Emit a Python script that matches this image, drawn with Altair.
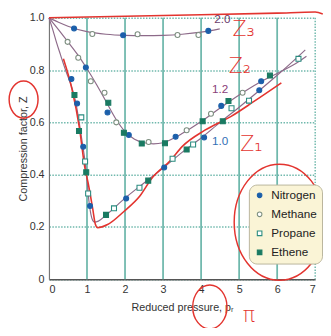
import altair as alt
import pandas as pd

# ---- isotherm curves (reduced temperature) ----
t10_p = [0, 0.1, 0.2, 0.3, 0.4, 0.5, 0.6, 0.7, 0.8, 0.9, 0.95, 1.0, 1.05, 1.1, 1.15, 1.2, 1.3, 1.5,
         2.0, 2.5, 3.0, 3.5, 4.0, 4.5, 5.0, 5.5, 6.0, 6.5, 6.74]
t10_z = [1.0, 0.955, 0.905, 0.86, 0.815, 0.775, 0.735, 0.68, 0.595, 0.5, 0.45, 0.38, 0.3, 0.25, 0.225,
         0.218, 0.222, 0.245, 0.31, 0.368, 0.425, 0.485, 0.54, 0.6, 0.658, 0.718, 0.78, 0.845, 0.877]
t12_p = [0, 0.25, 0.5, 0.75, 1.0, 1.25, 1.5, 1.75, 2.0, 2.25, 2.5, 2.75, 3.0, 3.25, 3.5, 4.0, 4.5,
         5.0, 5.5, 6.0, 6.5, 6.77]
t12_z = [1.0, 0.955, 0.908, 0.86, 0.805, 0.745, 0.68, 0.615, 0.565, 0.535, 0.522, 0.518, 0.522, 0.537,
         0.557, 0.603, 0.655, 0.705, 0.75, 0.787, 0.826, 0.853]
t20_p = [0, 0.25, 0.5, 1.0, 1.5, 2.0, 2.5, 3.0, 3.5, 4.0, 4.49]
t20_z = [1.0, 0.983, 0.968, 0.947, 0.937, 0.933, 0.932, 0.933, 0.937, 0.945, 0.958]

# ---- measured points ----
nitrogen_p = [0.66, 1.95, 4.19, 0.97, 1.54, 2.1, 3.33, 4.53, 5.58, 0.59, 0.74, 0.9, 1.08, 2.03, 3.03, 4.08, 5.53]
nitrogen_z = [0.959, 0.933, 0.95, 0.81, 0.638, 0.552, 0.545, 0.663, 0.757, 0.766, 0.672, 0.507, 0.28, 0.309,
              0.427, 0.542, 0.723]
methane_p = [1.14, 2.33, 3.38, 3.93, 0.49, 0.77, 1.1, 1.46, 1.77, 2.62, 3.62, 4.26, 5.09]
methane_z = [0.938, 0.937, 0.934, 0.934, 0.908, 0.847, 0.757, 0.713, 0.6, 0.525, 0.57, 0.633, 0.713]
propane_p = [0.85, 0.95, 1.03, 1.71, 2.38, 3.25, 3.79, 4.8, 5.26, 6.56]
propane_z = [0.619, 0.45, 0.328, 0.271, 0.35, 0.461, 0.515, 0.654, 0.683, 0.843]
ethene_p = [1.56, 1.97, 2.44, 3.05, 4.04, 4.72, 5.81, 0.67, 0.79, 0.98, 1.5, 2.61, 3.62, 4.57]
ethene_z = [0.675, 0.56, 0.519, 0.52, 0.604, 0.682, 0.779, 0.705, 0.567, 0.409, 0.246, 0.377, 0.496, 0.604]

gases = ["Nitrogen", "Methane", "Propane", "Ethene"]
curve_labels = ["2.0", "1.2", "1.0"]
curve_label_p = [4.56, 4.5, 4.5]
curve_label_z = [0.994, 0.729, 0.53]
curve_label_colors = ["#6b3c6b", "#8a3f7a", "#3270b5"]

x_ticks = [0, 1, 2, 3, 4, 5, 6, 7]
y_ticks = [0, 0.2, 0.4, 0.6, 0.8, 1.0]
grid_x = [1, 2, 3, 4, 5, 6]
edge_x = [7]

# ---- red hand annotations ----
red_top_p = [0, 3, 6, 7.0, 7.2]
red_top_z = [1.0, 1.009, 1.018, 1.022, 1.015]
red_curve_p = [0.38, 0.6, 0.8, 0.94, 1.03, 1.15, 1.22, 1.28, 1.54, 1.97, 2.39, 2.7, 3.2, 3.5, 4.1, 4.79, 5.38, 6.11]
red_curve_z = [0.843, 0.73, 0.58, 0.43, 0.368, 0.27, 0.21, 0.197, 0.209, 0.259, 0.318, 0.385, 0.455, 0.507,
               0.57, 0.623, 0.679, 0.751]
red_text = ["Z\u2083", "Z\u2082", "Z\u2081", "\u03c0"]
red_text_p = [5.12, 5.02, 5.32, 5.26]
red_text_z = [0.953, 0.81, 0.511, -0.14]
ring_p = [6.06, 4.23, -0.667]
ring_z = [0.218, -0.106, 0.687]
ring_size = [14161, 2025, 1444]

FONT = "Liberation Sans Narrow, Liberation Sans, sans-serif"
GRID = "#6fb8ac"
RED = "#e3342f"

xs = alt.Scale(domain=[0, 7], nice=False, zero=False)
ys = alt.Scale(domain=[0, 1], nice=False, zero=False)
xaxis = alt.Axis(values=x_ticks, format="d", title="Reduced pressure, p\u1d63", grid=False, ticks=False,
                 labelPadding=5, titlePadding=7, domainColor="#555", domainWidth=1.5,
                 labelFont=FONT, titleFont=FONT, labelFontSize=11, titleFontSize=11,
                 labelColor="#333", titleColor="#333", titleFontWeight="normal")
yaxis = alt.Axis(values=y_ticks, labelExpr="datum.value == 0 ? '0' : format(datum.value, '.1f')",
                 title="Compression factor, Z", grid=True, gridColor=GRID, gridDash=[1.5, 1.5],
                 gridWidth=1.5, ticks=False, labelPadding=5, titlePadding=1, domainColor="#777",
                 domainWidth=1.2, labelFont=FONT, titleFont=FONT, labelFontSize=11, titleFontSize=11,
                 labelColor="#333", titleColor="#333", titleFontWeight="normal")


def X(field="p"):
    return alt.X(f"{field}:Q", scale=xs, axis=xaxis)


def Y(field="z"):
    return alt.Y(f"{field}:Q", scale=ys, axis=yaxis)


curves = pd.DataFrame({
    "p": t10_p + t12_p + t20_p,
    "z": t10_z + t12_z + t20_z,
    "tr": ["1.0"] * len(t10_p) + ["1.2"] * len(t12_p) + ["2.0"] * len(t20_p),
})
pts = pd.DataFrame({
    "p": nitrogen_p + methane_p + propane_p + ethene_p,
    "z": nitrogen_z + methane_z + propane_z + ethene_z,
    "gas": ["Nitrogen"] * len(nitrogen_p) + ["Methane"] * len(methane_p)
           + ["Propane"] * len(propane_p) + ["Ethene"] * len(ethene_p),
})
labels = pd.DataFrame({"p": curve_label_p, "z": curve_label_z, "t": curve_labels})
vgrid = pd.DataFrame({"p": grid_x})
egrid = pd.DataFrame({"p": edge_x})
red_top = pd.DataFrame({"p": red_top_p, "z": red_top_z})
red_curve = pd.DataFrame({"p": red_curve_p, "z": red_curve_z})
red_txt = pd.DataFrame({"p": red_text_p, "z": red_text_z, "t": red_text})
rings = pd.DataFrame({"p": ring_p, "z": ring_z, "s": ring_size})

vlines = alt.Chart(vgrid).mark_rule(color=GRID, strokeWidth=1.8).encode(x=X())
elines = alt.Chart(egrid).mark_rule(color=GRID, strokeWidth=1.5, strokeDash=[1.5, 1.5]).encode(x=X())

lines = alt.Chart(curves).mark_line(color="#8d6a89", strokeWidth=1.2, interpolate="monotone").encode(
    x=X(), y=Y(), detail="tr:N")

gas_scale_color = alt.Scale(domain=gases, range=["#1b5faa", "#7d8f80", "#2a8c80", "#1a7a62"])
gas_scale_fill = alt.Scale(domain=gases, range=["#1b5faa", "#ffffff", "#ffffff", "#1a7a62"])
gas_scale_shape = alt.Scale(domain=gases, range=["circle", "circle", "square", "square"])
legend = alt.Legend(title=None, orient="none", legendX=205, legendY=171, fillColor="#faf4d6",
                    strokeColor="#b9b59c", cornerRadius=8, padding=5, labelFont=FONT,
                    labelFontSize=12, labelColor="#222", symbolSize=22, symbolStrokeWidth=1.1,
                    rowPadding=7.5, labelOffset=6)

points = alt.Chart(pts).mark_point(filled=False, size=26, strokeWidth=1.1, opacity=1).encode(
    x=X(), y=Y(),
    color=alt.Color("gas:N", scale=gas_scale_color, legend=legend),
    fill=alt.Fill("gas:N", scale=gas_scale_fill, legend=legend),
    shape=alt.Shape("gas:N", scale=gas_scale_shape, legend=legend),
)

label_layers = []
for name, col in zip(curve_labels, curve_label_colors):
    label_layers.append(
        alt.Chart(labels).transform_filter(alt.datum.t == name)
        .mark_text(font=FONT, fontSize=12, align="center", baseline="middle", color=col)
        .encode(x=X(), y=Y(), text="t:N")
    )

r_top = alt.Chart(red_top).mark_line(color=RED, strokeWidth=1.6, interpolate="monotone").encode(x=X(), y=Y())
r_curve = alt.Chart(red_curve).mark_line(color=RED, strokeWidth=1.6, interpolate="monotone").encode(x=X(), y=Y())
r_txt = alt.Chart(red_txt).mark_text(color=RED, fontSize=21, font="DejaVu Sans", fontWeight=300,
                                     align="center", baseline="middle").encode(x=X(), y=Y(), text="t:N")
ellipse = "M -0.78 0 A 0.78 1 0 1 0 0.78 0 A 0.78 1 0 1 0 -0.78 0 Z"
r_rings = alt.Chart(rings).mark_point(shape=ellipse, filled=False, color=RED, strokeWidth=1.5, opacity=1).encode(
    x=X(), y=Y(), size=alt.Size("s:Q", scale=None, legend=None))

chart = alt.layer(vlines, elines, lines, r_top, r_curve, points, *label_layers, r_txt, r_rings).properties(
    width=273, height=268,
    autosize=alt.AutoSizeParams(type="none"),
    padding={"left": 42, "top": 6, "right": 8, "bottom": 46},
    background="white",
).configure_view(stroke=None)

chart.save("out.html", embed_options={"renderer": "svg", "actions": False})
